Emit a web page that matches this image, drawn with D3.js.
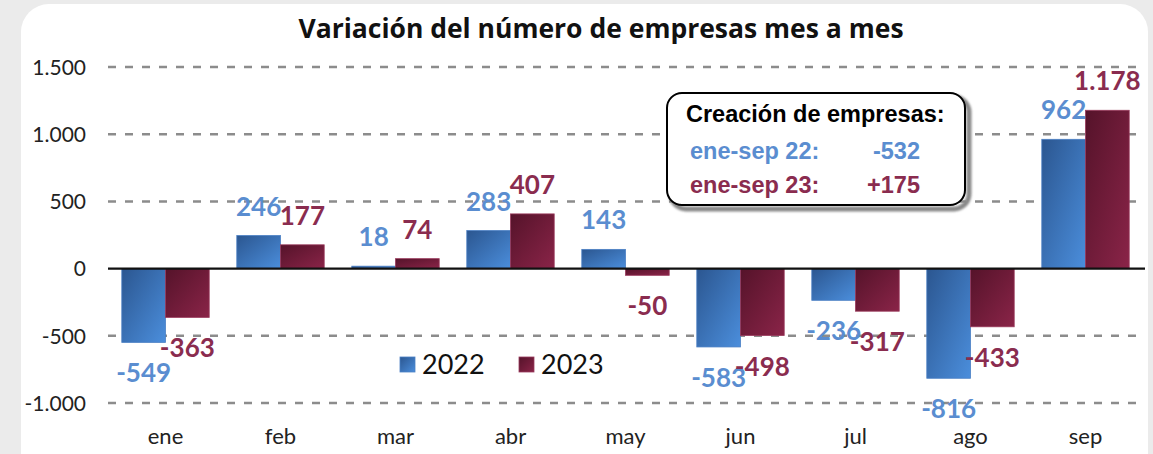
<!DOCTYPE html>
<html><head><meta charset="utf-8">
<script src="https://cdn.jsdelivr.net/npm/d3@7"></script>
<style>
html,body{margin:0;padding:0;background:#ebebeb;}
svg{display:block;}
</style></head>
<body>
<svg id="c" width="1153" height="454"></svg>
<script>
const months = ["ene","feb","mar","abr","may","jun","jul","ago","sep"];
const seriesNames = ["2022","2023"];
const values2022 = [-549,246,18,283,143,-583,-236,-816,962];
const values2023 = [-363,177,74,407,-50,-498,-317,-433,1178];
const labels2022 = ["-549","246","18","283","143","-583","-236","-816","962"];
const labels2023 = ["-363","177","74","407","-50","-498","-317","-433","1.178"];
const yTicks = [-1000,-500,0,500,1000,1500];
const yTickLabels = ["-1.000","-500","0","500","1.000","1.500"];
const title = "Variación del número de empresas mes a mes";
const boxTitle = "Creación de empresas:";
const boxRows = [["ene-sep 22:","-532"],["ene-sep 23:","+175"]];

const svg = d3.select("#c");
const defs = svg.append("defs");
function grad(id, c0, c1){
  const g = defs.append("linearGradient").attr("id",id).attr("x1","0").attr("y1","0").attr("x2","1").attr("y2","1");
  g.append("stop").attr("offset","0%").attr("stop-color",c0);
  g.append("stop").attr("offset","100%").attr("stop-color",c1);
}
grad("gBlue","#2b5690","#4b8edc");
grad("gRed","#55132a","#8a2448");
const f = defs.append("filter").attr("id","blur").attr("x","-10%").attr("y","-10%").attr("width","130%").attr("height","130%");
f.append("feGaussianBlur").attr("stdDeviation",1.2);

// card
svg.append("rect").attr("x",21).attr("y",4).attr("width",1127).attr("height",480).attr("rx",28).attr("fill","#ffffff");

const blueText = "#5a8dd0", redText = "#8a2c4f";
const colors = ["url(#gBlue)","url(#gRed)"];
const textColors = [blueText, redText];
const strokeColors = ["#4a7fc4","#9a3a5c"];

const y = d3.scaleLinear().domain([-1000,1500]).range([403,67]);
const x0 = d3.scaleBand().domain(months).range([108,1143]).paddingInner(0.24).paddingOuter(0.12);
const x1 = d3.scaleBand().domain(seriesNames).range([0,x0.bandwidth()]);

// title
svg.append("text").attr("x",601).attr("y",38).attr("text-anchor","middle")
  .attr("font-family","Open Sans").attr("font-weight","bold").attr("font-size",26.5).attr("fill","#111").text(title);

// grid
const g = svg.append("g");
g.selectAll("line.grid").data(yTicks.filter(d=>d!==0)).join("line")
  .attr("x1",108).attr("x2",1143).attr("y1",d=>y(d)).attr("y2",d=>y(d))
  .attr("stroke","#8c8c8c").attr("stroke-width",2.5).attr("stroke-dasharray","8,9");

// y axis labels
const yAxis = d3.axisLeft(y).tickValues(yTicks).tickFormat(d=>yTickLabels[yTicks.indexOf(d)]).tickSize(0).tickPadding(0);
const ya = svg.append("g").attr("transform","translate(86,0)").call(yAxis);
ya.select(".domain").remove();
ya.selectAll("text").attr("font-family","Lato").attr("font-size",21).attr("fill","#222").attr("dy","0.35em");

// x axis labels
const xAxis = d3.axisBottom(x0).tickSize(0).tickPadding(0);
const xa = svg.append("g").attr("transform","translate(0,429)").call(xAxis);
xa.select(".domain").remove();
xa.selectAll("text").attr("font-family","Lato").attr("font-size",22).attr("fill","#222").attr("dy","0.7em");

// bars
const rows = months.map((m,i)=>({m, vals:[values2022[i],values2023[i]], labs:[labels2022[i],labels2023[i]]}));
const grp = svg.append("g").selectAll("g").data(rows).join("g").attr("transform",d=>`translate(${x0(d.m)},0)`);
grp.selectAll("rect").data(d=>d.vals.map((v,k)=>({v,k}))).join("rect")
  .attr("x",d=>x1(seriesNames[d.k])).attr("width",x1.bandwidth())
  .attr("y",d=>Math.min(y(d.v),y(0))).attr("height",d=>Math.abs(y(d.v)-y(0)))
  .attr("fill",d=>colors[d.k]).attr("stroke",d=>strokeColors[d.k]).attr("stroke-width",0.8);

// zero line
svg.append("line").attr("x1",108).attr("x2",1145).attr("y1",y(0)).attr("y2",y(0)).attr("stroke","#111").attr("stroke-width",2.2);

// data labels
grp.selectAll("text.lab").data(d=>d.vals.map((v,k)=>({v,k,l:d.labs[k]}))).join("text")
  .attr("class","lab")
  .attr("x",d=>x1(seriesNames[d.k])+x1.bandwidth()/2)
  .attr("y",d=>d.v>=0 ? y(d.v)-20 : y(d.v)+40)
  .attr("text-anchor","middle").attr("font-family","Lato").attr("font-weight","bold").attr("font-size",26)
  .attr("fill",d=>textColors[d.k]).text(d=>d.l);

// legend
const leg = svg.append("g");
const legX = [400,519];
seriesNames.forEach((s,i)=>{
  leg.append("rect").attr("x",legX[i]).attr("y",357).attr("width",15).attr("height",15).attr("fill",colors[i]).attr("stroke",strokeColors[i]).attr("stroke-width",0.8);
  leg.append("text").attr("x",legX[i]+22).attr("y",374).attr("font-family","Lato").attr("font-size",27).attr("fill","#111").text(s);
});

// annotation box
const box = svg.append("g");
box.append("rect").attr("x",671).attr("y",97).attr("width",298).attr("height",112).attr("rx",15)
  .attr("fill","none").attr("stroke","#888").attr("stroke-width",5).attr("filter","url(#blur)");
box.append("rect").attr("x",667).attr("y",93).attr("width",298).attr("height",112).attr("rx",15)
  .attr("fill","#fff").attr("stroke","#000").attr("stroke-width",2);
box.append("text").attr("x",686).attr("y",122).attr("font-family","Liberation Sans").attr("font-weight","bold")
  .attr("font-size",23.5).attr("fill","#000").text(boxTitle);
const by = [159,193];
boxRows.forEach((r,i)=>{
  box.append("text").attr("x",690).attr("y",by[i]).attr("font-family","Liberation Sans").attr("font-weight","bold")
    .attr("font-size",23.5).attr("fill",textColors[i]).text(r[0]);
  box.append("text").attr("x",920).attr("y",by[i]).attr("text-anchor","end").attr("font-family","Liberation Sans").attr("font-weight","bold")
    .attr("font-size",23.5).attr("fill",textColors[i]).text(r[1]);
});
</script>
</body></html>
